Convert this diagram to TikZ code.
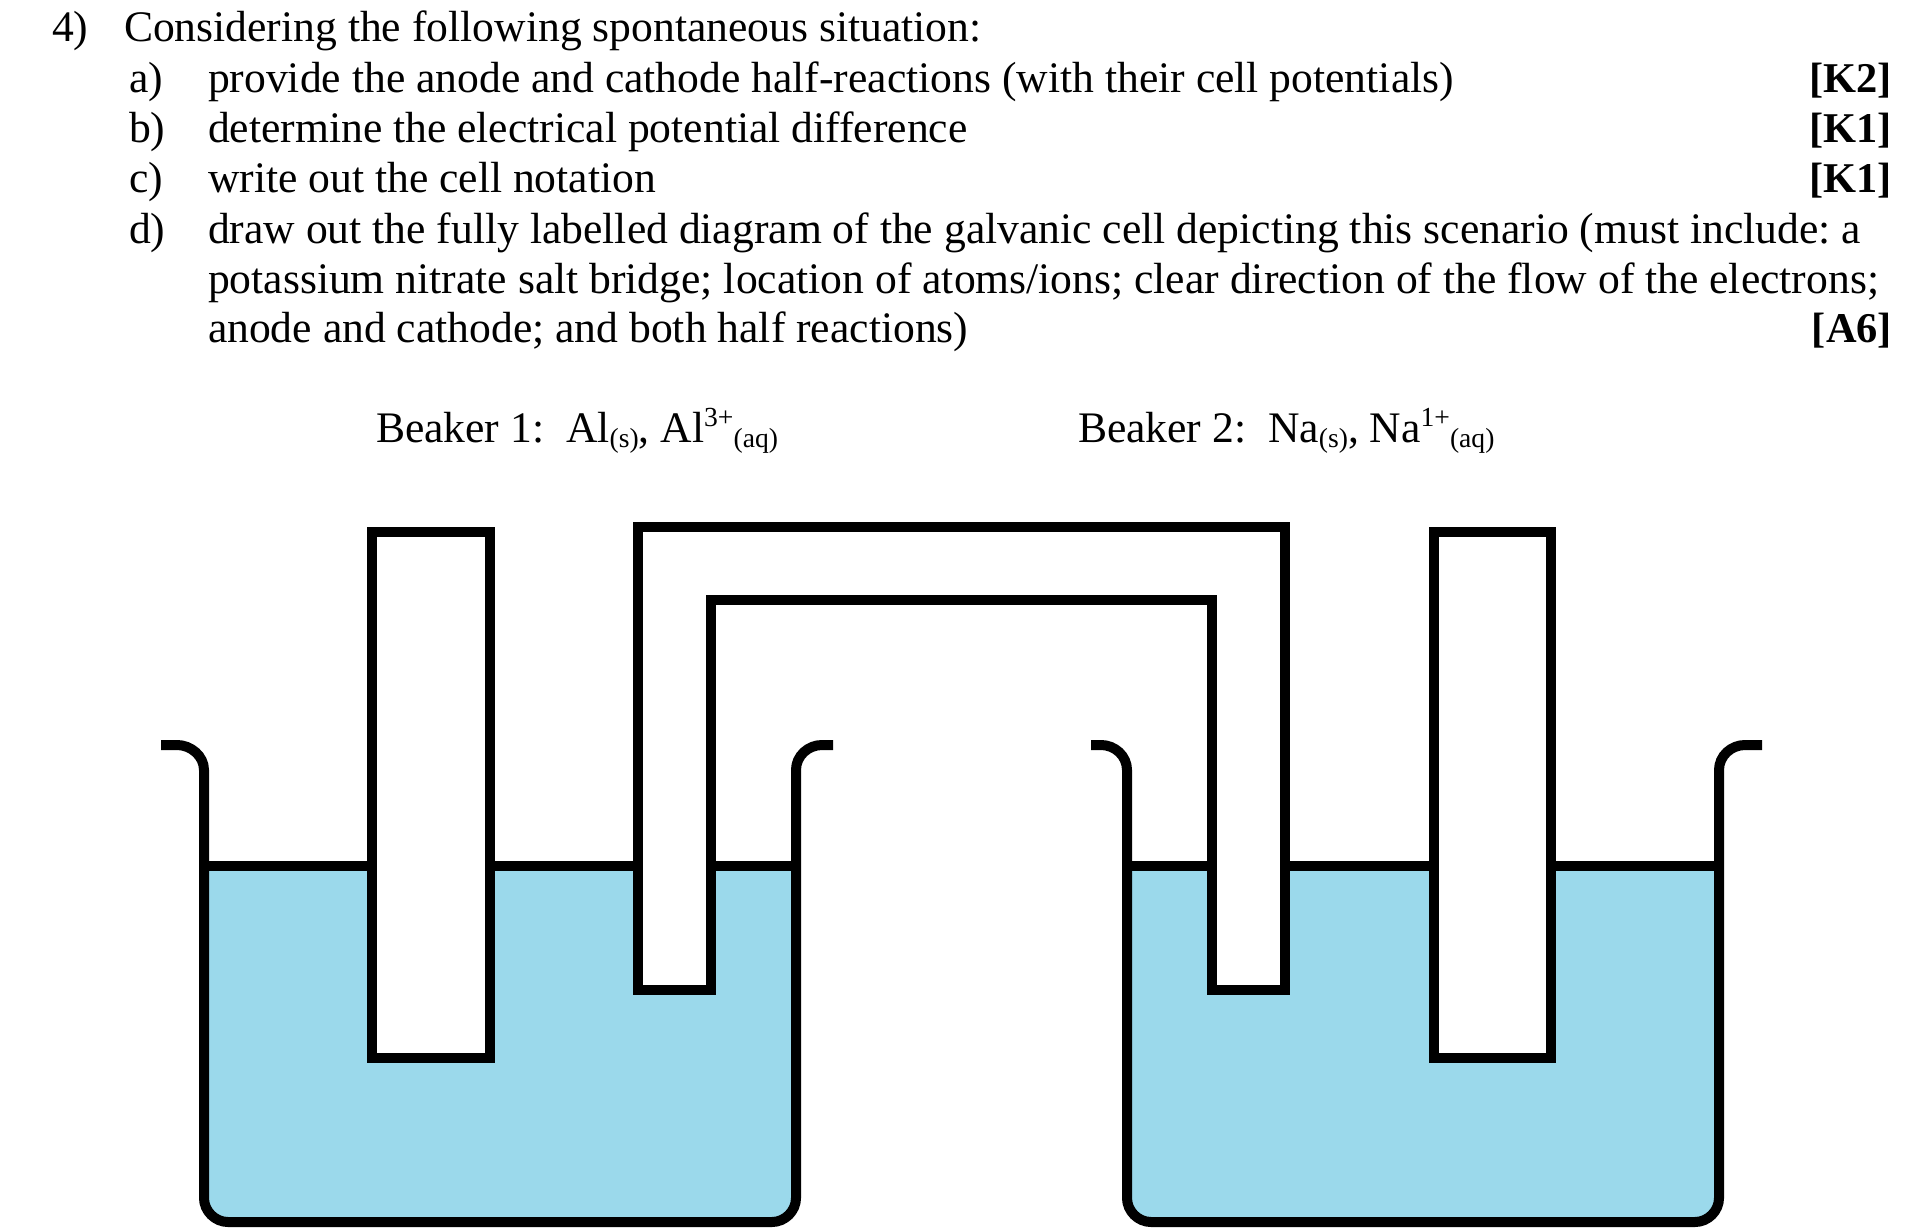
\documentclass[tikz,border=0pt]{standalone}
\usepackage{fontspec}
\setmainfont{Liberation Serif}
\frenchspacing
\definecolor{liquid}{HTML}{9BD9EB}
\tikzset{x=0.5pt,y=-0.5pt,
 wall/.style={line width=5pt,line join=miter,draw=black},
 txt/.style={anchor=base west,inner sep=0pt,outer sep=0pt,font=\fontsize{21.8}{25}\selectfont},
 tag/.style={anchor=base east,inner sep=0pt,outer sep=0pt,font=\fontsize{21.2}{25}\selectfont\bfseries}}
\newcommand{\sm}[1]{{\fontsize{13.8}{14}\selectfont #1}}
\begin{document}
\begin{tikzpicture}
\useasboundingbox (0,0) rectangle (1916,1230);
% liquids
\fill[liquid] (204,865) -- (204,1198) .. controls (204,1211) and (215,1222) .. (228,1222) -- (772,1222) .. controls (785,1222) and (796,1211) .. (796,1198) -- (796,865) -- cycle;
\fill[liquid] (1127,865) -- (1127,1198) .. controls (1127,1211) and (1138,1222) .. (1151,1222) -- (1695,1222) .. controls (1708,1222) and (1719,1211) .. (1719,1198) -- (1719,865) -- cycle;
% beakers
\draw[wall] (161,745) -- (177,745) .. controls (191,745) and (204,756) .. (204,770) -- (204,1198) .. controls (204,1211) and (215,1222) .. (228,1222) -- (772,1222) .. controls (785,1222) and (796,1211) .. (796,1198) -- (796,770) .. controls (796,756) and (808,745) .. (822,745) -- (833,745);
\draw[wall] (1091,745) -- (1101,745) .. controls (1115,745) and (1127,756) .. (1127,770) -- (1127,1198) .. controls (1127,1211) and (1138,1222) .. (1151,1222) -- (1695,1222) .. controls (1708,1222) and (1719,1211) .. (1719,1198) -- (1719,770) .. controls (1719,756) and (1731,745) .. (1745,745) -- (1762,745);
% levels
\draw[wall] (204,866) -- (796,866);
\draw[wall] (1127,866) -- (1719,866);
% electrodes
\draw[wall,fill=white] (372,532) rectangle (490,1058);
\draw[wall,fill=white] (1434,532) rectangle (1551,1058);
% bridge
\draw[wall,fill=white] (638,527) -- (1285,527) -- (1285,990) -- (1212,990) -- (1212,600) -- (711,600) -- (711,990) -- (638,990) -- cycle;
% text
\node[txt] (t0) at (52,42) {4)};
\node[txt] (t1) at (124,42) {Considering the following spontaneous situation:};
\node[txt] (a) at (129,93) {a)};
\node[txt] (a1) at (208,93) {provide the anode and cathode half-reactions (with their cell potentials)};
\node[txt] (b) at (129,143) {b)};
\node[txt] (b1) at (208,143) {determine the electrical potential difference};
\node[txt] (c) at (129,193) {c)};
\node[txt] (c1) at (208,193) {write out the cell notation};
\node[txt] (d) at (129,243) {d)};
\node[txt] (d1) at (208,243) {draw out the fully labelled diagram of the galvanic cell depicting this scenario (must include: a};
\node[txt] (d2) at (208,293) {potassium nitrate salt bridge; location of atoms/ions; clear direction of the flow of the electrons;};
\node[txt] (d3) at (208,342) {anode and cathode; and both half reactions)};
\node[tag] (k1) at (1892,93) {[K2]};
\node[tag] (k2) at (1892,143) {[K1]};
\node[tag] (k3) at (1892,193) {[K1]};
\node[tag] (k4) at (1892,342) {[A6]};
\node[txt] (b1l) at (376,442) {Beaker 1:\ \ Al\raisebox{-2.5pt}{\sm{(s)}}, Al\raisebox{8pt}{\sm{3+}}\raisebox{-2.5pt}{\sm{(aq)}}};
\node[txt] (b2l) at (1078,442) {Beaker 2:\ \ Na\raisebox{-2.5pt}{\sm{(s)}}, Na\raisebox{8pt}{\sm{1+}}\raisebox{-2.5pt}{\sm{(aq)}}};
\end{tikzpicture}
\end{document}
